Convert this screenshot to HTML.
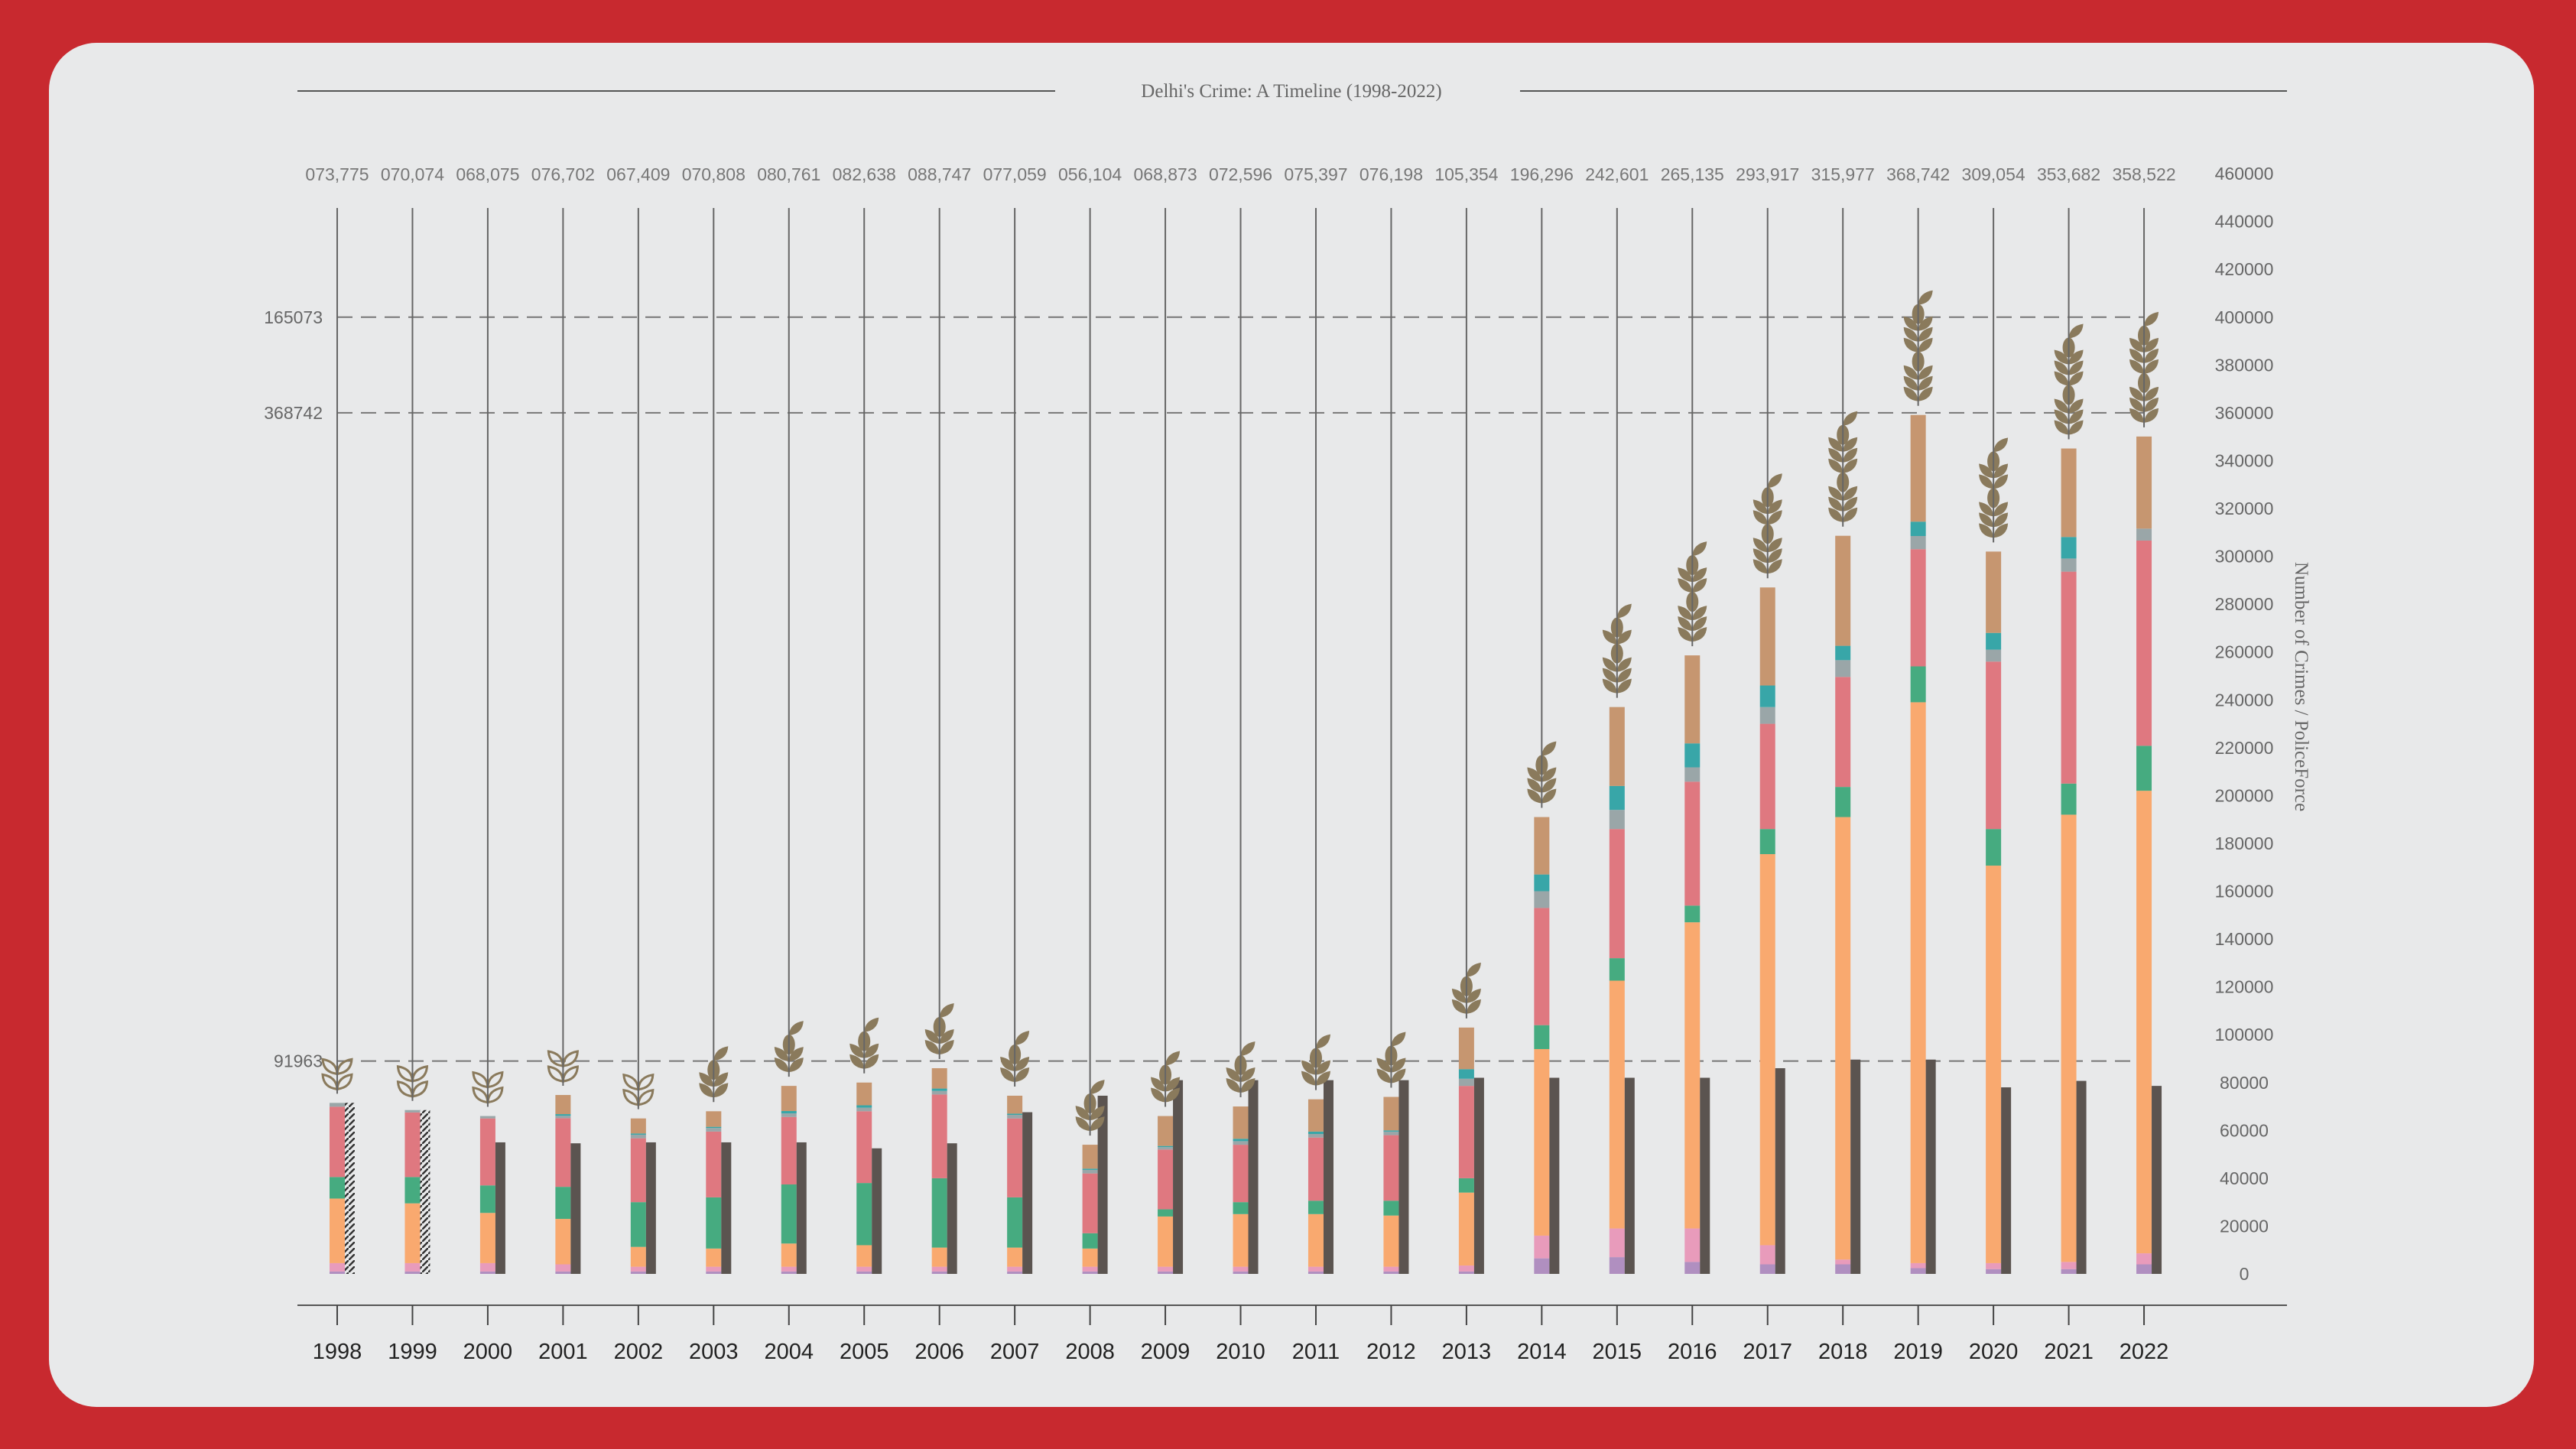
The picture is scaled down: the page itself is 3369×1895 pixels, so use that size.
<!DOCTYPE html>
<html><head><meta charset="utf-8"><style>
html,body{margin:0;padding:0;background:#c8292f;}
svg{display:block;}
</style></head><body>
<svg id="chart" width="3369" height="1895" viewBox="0 0 3369 1895" xmlns="http://www.w3.org/2000/svg">
<rect x="0" y="0" width="3369" height="1895" fill="#c8292f"/>
<rect x="64" y="56" width="3250" height="1784" rx="62" fill="#e8e9ea"/>
<line x1="389" y1="119" x2="1380" y2="119" stroke="#555" stroke-width="2"/>
<line x1="1988" y1="119" x2="2991" y2="119" stroke="#555" stroke-width="2"/>
<text x="1689" y="127" text-anchor="middle" font-family="Liberation Serif, serif" font-size="25" fill="#666">Delhi's Crime: A Timeline (1998-2022)</text>
<text transform="translate(3002,898) rotate(90)" text-anchor="middle" font-family="Liberation Serif, serif" font-size="25" fill="#666">Number of Crimes / PoliceForce</text>
<line x1="389" y1="1707" x2="2991" y2="1707" stroke="#555" stroke-width="2"/>
<g id="layer"></g>
</svg>
<script>
const years = ["1998","1999","2000","2001","2002","2003","2004","2005","2006","2007","2008","2009","2010","2011","2012","2013","2014","2015","2016","2017","2018","2019","2020","2021","2022"];
const topLabels = ["073,775","070,074","068,075","076,702","067,409","070,808","080,761","082,638","088,747","077,059","056,104","068,873","072,596","075,397","076,198","105,354","196,296","242,601","265,135","293,917","315,977","368,742","309,054","353,682","358,522"];
// segment values in thousands (bottom to top)
const purple = [1,1,1,1,1,1,1,1,1,1,1,1,1,1,1,1,6.5,7,5,4,4,2.4,2,2,4];
const pink   = [3.5,3.5,3.5,3,2,2,2,2,2,2,2,2,2,2,2,2.5,9.5,12,14,8,2,2.1,2.5,3,4.6];
const orange = [27,25,21,19,8.3,7.6,9.7,9,8,8,7.6,21,22,22,21.4,30.5,78,103.6,128,163.5,185,234.5,166.2,187,193.4];
const green  = [9,11,11.5,13.4,18.7,21.4,24.7,26,29,21,6.4,3,5,5.6,6.2,6,10,9.4,7,10.5,12.6,15,15.3,13,18.8];
const red    = [29.4,27,28,28.7,26.7,27.5,28.2,30,35,33,25,25,24,26.4,27.4,38.6,49,54,51.8,44,46,49,70,88.6,85.8];
const misc   = [1.6,1,1,1,1.5,1.5,1.5,1.5,1.5,1.5,1.5,1,1.5,1.5,1.5,3,7,8,6,7,7,5.5,5,5.5,5];
const teal   = [0,0,0,0.7,0.5,0.5,1,1,1,0.5,0.5,0.5,1,1,0.5,4,7,10,10,9,6,6,7,9,0];
const tan    = [0,0,0,8,6.3,6.5,10.5,9.5,8.5,7.5,10,12.5,13.5,13.5,14,17.4,24,33,36.8,41,46,44.6,34,37,38.5];
const police = [71.5,68.5,55,54.6,55,55,55,52.5,54.6,67.6,74.5,81,81,81,81,82,82,82,82,86,89.6,89.6,78,80.7,78.6];
const policeMissing = [true,true,false,false,false,false,false,false,false,false,false,false,false,false,false,false,false,false,false,false,false,false,false,false,false];
const yTicks = [0,20000,40000,60000,80000,100000,120000,140000,160000,180000,200000,220000,240000,260000,280000,300000,320000,340000,360000,380000,400000,420000,440000,460000];
const refValues = [400,360,89];
const refLabels = ["165073","368742","91963"];

const NS="http://www.w3.org/2000/svg";
const layer=document.getElementById('layer');
const x0=441, dx=98.46;
const xs=i=>x0+i*dx;
const y=v=>1666-v*3.128; // v in thousands
function mk(tag,attrs,parent){const e=document.createElementNS(NS,tag);for(const k in attrs)e.setAttribute(k,attrs[k]);(parent||layer).appendChild(e);return e;}

const defs=mk('defs',{});
const pat=mk('pattern',{id:'hatch',width:'8',height:'8',patternUnits:'userSpaceOnUse'},defs);
mk('line',{x1:'0',y1:'8',x2:'8',y2:'0',stroke:'#333','stroke-width':'2.5'},pat);

yTicks.forEach(t=>{
  const e=mk('text',{x:2935,y:y(t/1000)+8,'text-anchor':'middle','font-family':'Liberation Sans Narrow, Liberation Sans, sans-serif','font-size':'23',fill:'#666'});
  
  
  e.textContent=String(t);
});

refValues.forEach((v,k)=>{
  const l=mk('line',{x1:xs(0),x2:xs(24),y1:y(v),y2:y(v),stroke:'#777','stroke-width':'2','stroke-dasharray':'20 11'});
  
  
  const t=mk('text',{x:422,y:y(v)+8,'text-anchor':'end','font-family':'Liberation Sans Narrow, Liberation Sans, sans-serif','font-size':'23',fill:'#666'});
  
  
  t.textContent=refLabels[k];
});

const segs=[[purple,'#b08fc0'],[pink,'#e89bbb'],[orange,'#f9a96f'],[green,'#46ab80'],[red,'#df7880'],[misc,'#9aa6a8'],[teal,'#38a6a8'],[tan,'#c69670']];
const wheat='#8a7a5c';

function leaf(g,cx,cy,dir,filled){
  const d=`M${cx},${cy} Q${cx+dir*1},${cy-16} ${cx+dir*19},${cy-19} Q${cx+dir*18},${cy-2} ${cx},${cy} Z`;
  mk('path',filled?{d,fill:wheat}:{d,fill:'none',stroke:wheat,'stroke-width':'3'},g);
}

years.forEach((yr,i)=>{
  const cx=xs(i);
  let cum=0;
  const g=mk('g',{});
  
  
  segs.forEach(([arr,col])=>{
    const v=arr[i]; if(v<=0) return;
    const r=mk('rect',{x:cx-10,y:y(cum+v),width:20,height:y(cum)-y(cum+v),fill:col},g);
    
    
    cum+=v;
  });
  const total=cum;
  const pb=mk('rect',{x:cx+10,y:y(police[i]),width:13,height:y(0)-y(police[i]),fill:policeMissing[i]?'url(#hatch)':'#5b5450'});
  
  
  const outline=i<5;
  const pairs=outline?2:Math.max(2,Math.min(6,Math.round(total/55)));
  const bottom=y(total)-12;
  const wg=mk('g',{});
  
  
  let yy=bottom-6;
  for(let p=0;p<pairs;p++){
    if(!outline && p>0 && p%3===0){
      mk('ellipse',{cx:cx,cy:yy-10,rx:8,ry:13,fill:wheat},wg); yy-=22;
    }
    leaf(wg,cx,yy,1,!outline); leaf(wg,cx,yy,-1,!outline);
    yy-=outline?20:14;
  }
  if(!outline){
    mk('ellipse',{cx:cx,cy:yy-8,rx:8,ry:13,fill:wheat},wg);
    leaf(wg,cx,yy-20,1,true);
  }
  const st=mk('line',{x1:cx,x2:cx,y1:272,y2:bottom,stroke:'#666','stroke-width':'2'});
  
  
  const tl=mk('text',{x:cx,y:236,'text-anchor':'middle','font-family':'Liberation Sans Narrow, Liberation Sans, sans-serif','font-size':'23',fill:'#777'});
  
  
  tl.textContent=topLabels[i];
  const tk=mk('line',{x1:cx,x2:cx,y1:1707,y2:1733,stroke:'#444','stroke-width':'2'});
  
  
  const xl=mk('text',{x:cx,y:1777,'text-anchor':'middle','font-family':'Liberation Sans, sans-serif','font-size':'29',fill:'#222'});
  
  
  xl.textContent=yr;
});
</script>
</body></html>
